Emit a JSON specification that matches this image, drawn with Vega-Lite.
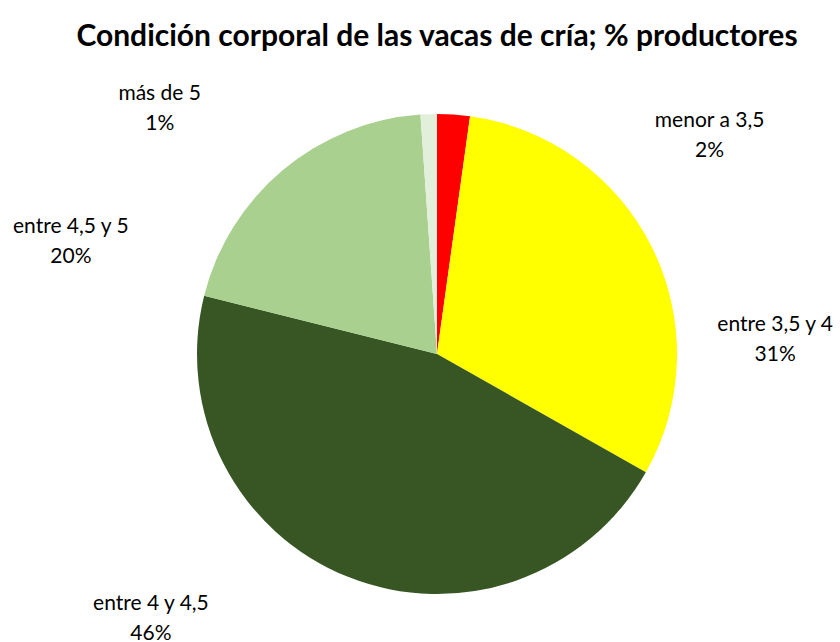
{
  "$schema": "https://vega.github.io/schema/vega-lite/v6.json",
  "autosize": {"type": "none"},
  "width": 806,
  "height": 576,
  "padding": {"left": 34, "right": 0, "top": 66, "bottom": 0},
  "background": "white",
  "config": {"view": {"stroke": null}},
  "title": {
    "text": "Condición corporal de las vacas de cría; % productores",
    "font": "Lato",
    "fontSize": 30,
    "fontWeight": "bold",
    "color": "#000000",
    "anchor": "middle",
    "baseline": "alphabetic",
    "offset": -10
  },
  "data": {
    "values": [
      {"categoria": "menor a 3,5", "porcentaje": 2.2, "orden": 1, "etiqueta": "menor a 3,5\n2%"},
      {"categoria": "entre 3,5 y 4", "porcentaje": 31.0, "orden": 2, "etiqueta": "entre 3,5 y 4\n31%"},
      {"categoria": "entre 4 y 4,5", "porcentaje": 45.7, "orden": 3, "etiqueta": "entre 4 y 4,5\n46%"},
      {"categoria": "entre 4,5 y 5", "porcentaje": 20.0, "orden": 4, "etiqueta": "entre 4,5 y 5\n20%"},
      {"categoria": "más de 5", "porcentaje": 1.1, "orden": 5, "etiqueta": "más de 5\n1%"}
    ]
  },
  "encoding": {
    "theta": {"field": "porcentaje", "type": "quantitative", "stack": true},
    "order": {"field": "orden", "type": "quantitative"}
  },
  "layer": [
    {
      "mark": {"type": "arc", "outerRadius": 240, "stroke": null},
      "encoding": {
        "color": {
          "field": "categoria",
          "type": "nominal",
          "sort": null,
          "scale": {
            "domain": ["menor a 3,5", "entre 3,5 y 4", "entre 4 y 4,5", "entre 4,5 y 5", "más de 5"],
            "range": ["#FF0000", "#FFFF00", "#375623", "#A9D08E", "#E2EFDA"]
          },
          "legend": null
        }
      }
    },
    {
      "mark": {"type": "text", "radius": 240, "dx": 256, "dy": 12, "font": "Lato", "fontSize": 21, "lineBreak": "\n", "lineHeight": 30, "align": "center", "baseline": "alphabetic", "color": "#000000"},
      "encoding": {"text": {"condition": {"test": "datum.categoria === 'menor a 3,5'", "field": "etiqueta"}, "value": ""}}
    },
    {
      "mark": {"type": "text", "radius": 240, "dx": 123, "dy": 83, "font": "Lato", "fontSize": 21, "lineBreak": "\n", "lineHeight": 30, "align": "center", "baseline": "alphabetic", "color": "#000000"},
      "encoding": {"text": {"condition": {"test": "datum.categoria === 'entre 3,5 y 4'", "field": "etiqueta"}, "value": ""}}
    },
    {
      "mark": {"type": "text", "radius": 240, "dx": -197, "dy": 33, "font": "Lato", "fontSize": 21, "lineBreak": "\n", "lineHeight": 30, "align": "center", "baseline": "alphabetic", "color": "#000000"},
      "encoding": {"text": {"condition": {"test": "datum.categoria === 'entre 4 y 4,5'", "field": "etiqueta"}, "value": ""}}
    },
    {
      "mark": {"type": "text", "radius": 240, "dx": -212, "dy": 63, "font": "Lato", "fontSize": 21, "lineBreak": "\n", "lineHeight": 30, "align": "center", "baseline": "alphabetic", "color": "#000000"},
      "encoding": {"text": {"condition": {"test": "datum.categoria === 'entre 4,5 y 5'", "field": "etiqueta"}, "value": ""}}
    },
    {
      "mark": {"type": "text", "radius": 240, "dx": -269, "dy": -14, "font": "Lato", "fontSize": 21, "lineBreak": "\n", "lineHeight": 30, "align": "center", "baseline": "alphabetic", "color": "#000000"},
      "encoding": {"text": {"condition": {"test": "datum.categoria === 'más de 5'", "field": "etiqueta"}, "value": ""}}
    }
  ]
}
